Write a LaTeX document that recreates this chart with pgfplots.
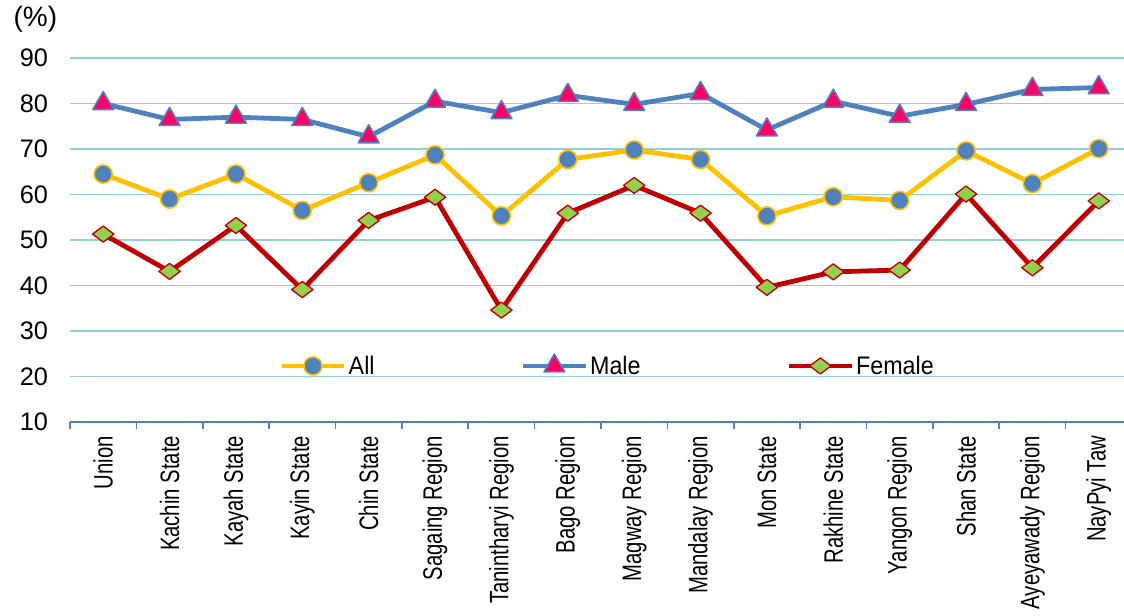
\documentclass[border=0pt]{standalone}
\usepackage{fontspec}
\setmainfont{Liberation Sans}
\newfontfamily\narrowfont{Liberation Sans}[FakeStretch=0.76]
\newfontfamily\legfont{Liberation Sans}[FakeStretch=0.92]
\usepackage{pgfplots}
\pgfplotsset{compat=1.18}

\definecolor{allline}{HTML}{FFC000}
\definecolor{blueline}{HTML}{4F81BD}
\definecolor{femline}{HTML}{C00000}
\definecolor{trifill}{HTML}{FF0066}
\definecolor{diafill}{HTML}{92D050}
\definecolor{gridc}{HTML}{93CDDD}

\begin{document}
\begin{tikzpicture}
\begin{axis}[
    scale only axis,
    width=790.5pt, height=273pt,
    xmin=-0.5, xmax=15.38,
    ymin=10, ymax=90,
    clip=false,
    axis x line*=bottom,
    axis y line*=left,
    x axis line style={blueline, line width=1.2pt, -},
    y axis line style={draw=none},
    ytick={10,20,...,90},
    ymajorgrids=true,
    grid style={gridc, line width=1pt},
    xtick={0,...,15},
    xticklabels={Union, Kachin State, Kayah State, Kayin State, Chin State,
        Sagaing Region, Tanintharyi Region, Bago Region, Magway Region,
        Mandalay Region, Mon State, Rakhine State, Yangon Region,
        Shan State, Ayeyawady Region, NayPyi Taw},
    minor xtick={-0.5,0.5,...,14.5},
    tick align=outside,
    major tick length=0pt,
    minor tick length=5pt,
    minor x tick style={blueline, line width=1.2pt},
    major tick style={draw=none},
    xticklabel style={rotate=90, anchor=east,
        font=\narrowfont\fontsize{20}{22}\selectfont},
    xticklabel shift=7pt,
    yticklabel style={font=\fontsize{19}{21}\selectfont},
    yticklabel shift=13pt,
    /pgf/number format/assume math mode=true,
    legend style={at={(0.51,0.154)}, anchor=center, draw=none, fill=none,
        font=\legfont\fontsize{19}{21}\selectfont,
        nodes={inner sep=1.5pt},
        /tikz/every even column/.append style={column sep=108pt}},
    legend columns=3,
    legend cell align=left,
    legend image code/.code={
        \draw[mark repeat=2, mark phase=2]
        plot coordinates {(0pt,0pt) (23.5pt,0pt) (47pt,0pt)};},
]

% All
\addplot[allline, line width=3.6pt, line join=round,
    mark=*, mark size=6.8pt,
    mark options={fill=blueline, draw=allline, line width=1.2pt}]
    coordinates {
    (0,64.5)(1,59.0)(2,64.5)(3,56.5)(4,62.6)(5,68.7)(6,55.3)(7,67.7)
    (8,69.8)(9,67.7)(10,55.3)(11,59.5)(12,58.7)(13,69.6)(14,62.4)(15,70.1)
    };
\addlegendentry{All}

% Male
\addplot[blueline, line width=3.6pt, line join=round,
    mark=triangle*, mark size=9pt,
    mark options={fill=trifill, draw=blueline, line width=1.2pt}]
    coordinates {
    (0,80.0)(1,76.5)(2,77.0)(3,76.5)(4,72.7)(5,80.5)(6,78.0)(7,81.8)
    (8,79.8)(9,82.2)(10,74.2)(11,80.5)(12,77.2)(13,79.8)(14,83.1)(15,83.5)
    };
\addlegendentry{Male}

% Female
\addplot[femline, line width=3.6pt, line join=round,
    mark=diamond*, mark size=8pt,
    mark options={fill=diafill, draw=femline, line width=1pt, rotate=90}]
    coordinates {
    (0,51.3)(1,43.1)(2,53.2)(3,39.1)(4,54.3)(5,59.4)(6,34.6)(7,55.9)
    (8,62.0)(9,55.9)(10,39.6)(11,43.0)(12,43.4)(13,60.1)(14,43.9)(15,58.6)
    };
\addlegendentry{Female}

\node[font=\fontsize{21}{23}\selectfont] at (rel axis cs:0,1)
    [xshift=-26pt, yshift=29pt] {(\%)};
\end{axis}
\pgfresetboundingbox
\path ([xshift=-52.5pt,yshift=-144.75pt]current axis.south west)
    rectangle ++(843pt,461.25pt);
\end{tikzpicture}
\end{document}
